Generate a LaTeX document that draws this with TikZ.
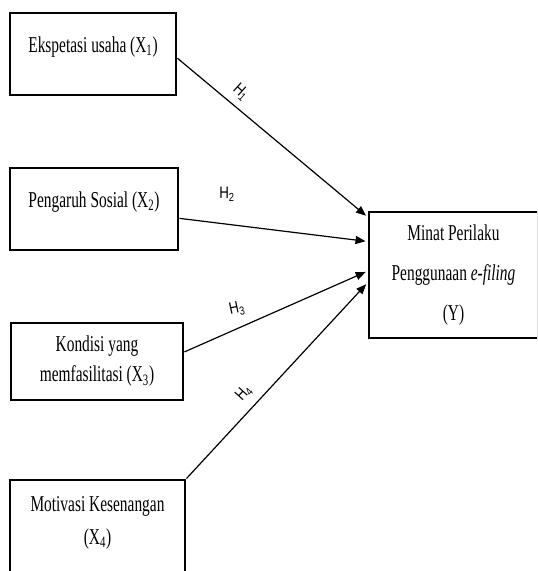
\documentclass[tikz,border=0pt]{standalone}
\usepackage{fontspec}
\setmainfont[FakeStretch=0.68]{Liberation Serif}
\newfontfamily\labelfont[FakeStretch=0.8]{Liberation Sans}
\usetikzlibrary{positioning,calc,arrows.meta}
\tikzset{>={Triangle[length=7.5pt,width=6pt]}}
\tikzset{
  kotak/.style={draw,line width=2.2pt,align=center,inner sep=0pt,
    font=\fontsize{17}{22.5}\selectfont},
  panah/.style={->,line width=0.9pt,shorten >=1.5pt},
  hip/.style={font=\labelfont\fontsize{12.5}{14}\selectfont,inner sep=1pt}
}

\begin{document}
\begin{tikzpicture}[x=0.75pt,y=-0.75pt]
\useasboundingbox (0,0) rectangle (537,571);
\clip (0,0) rectangle (537,571);
\node[kotak,minimum width=124.5pt,minimum height=61.5pt] (x1) at (93,54) {Ekspetasi usaha (X\textsubscript{1})\\[-8pt]\mbox{}};
\node[kotak,minimum width=126pt,minimum height=61.5pt] (x2) at (94,209) {Pengaruh Sosial (X\textsubscript{2})\\[-8pt]\mbox{}};
\node[kotak,minimum width=129pt,minimum height=57.75pt] (x3) at (97,361.5) {Kondisi yang\\memfasilitasi (X\textsubscript{3})};
\node[kotak,minimum width=131.25pt,minimum height=71.25pt,
  font=\fontsize{17}{25}\selectfont] (x4) at (97.5,527.5) {Motivasi Kesenangan\\(X\textsubscript{4})\\[-14pt]\mbox{}};
\node[kotak,minimum width=126.75pt,minimum height=94.5pt,
  font=\fontsize{17}{30}\selectfont] (y) at (453.5,275) {Minat Perilaku\\Penggunaan \textit{e-filing}\\(Y)};
\coordinate (y1) at ($(y.north west)!0.05!(y.south west)$);
\coordinate (y2) at ($(y.north west)!0.24!(y.south west)$);
\coordinate (y3) at ($(y.north west)!0.47!(y.south west)$);
\coordinate (y4) at ($(y.north west)!0.56!(y.south west)$);
\draw[panah] ($(x1.north east)!0.55!(x1.south east)$) -- (y1);
\draw[panah] ($(x2.north east)!0.61!(x2.south east)$) -- (y2);
\draw[panah] ($(x3.north east)!0.38!(x3.south east)$) -- (y3);
\draw[panah] (x4.north east) -- (y4);
\node[hip,rotate=-42] (h1) at (241,92) {H\textsubscript{1}};
\node[hip] (h2) at (227,194) {H\textsubscript{2}};
\node[hip,rotate=12] (h3) at (237,309) {H\textsubscript{3}};
\node[hip,rotate=48] (h4) at (244,393) {H\textsubscript{4}};
\end{tikzpicture}
\end{document}
